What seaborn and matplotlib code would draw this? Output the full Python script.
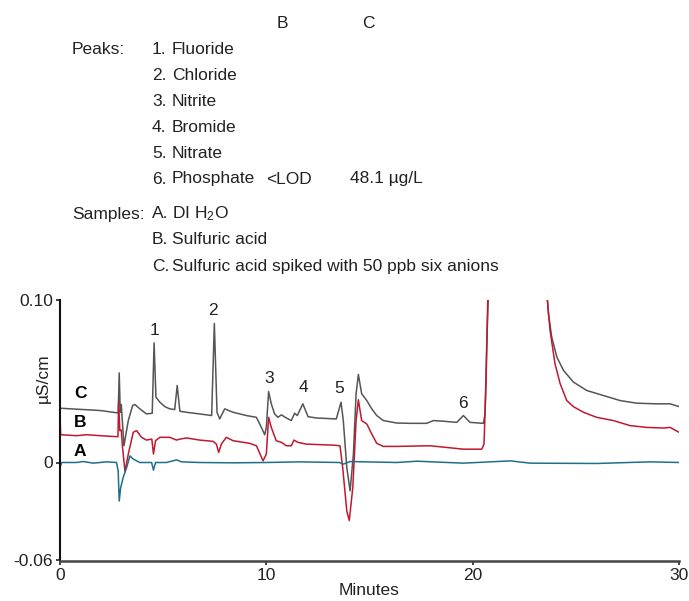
import matplotlib
matplotlib.use("Agg")
import matplotlib.pyplot as plt
import seaborn as sns
import pandas as pd

# ---------------- data ----------------
time_c = [0.00, 1.94, 2.82, 2.87, 2.92, 2.97, 3.02, 3.10, 3.31, 3.52, 3.63, 3.87, 4.19, 4.47,
          4.56, 4.65, 4.84, 5.08, 5.32, 5.56, 5.68, 5.81, 6.13, 6.77, 7.35, 7.48, 7.61, 7.74,
          7.98, 8.39, 9.03, 9.52, 9.76, 9.92, 10.00, 10.11, 10.24, 10.40, 10.56, 10.73, 10.97,
          11.21, 11.37, 11.50, 11.77, 12.02, 12.42, 13.39, 13.62, 13.73, 13.90, 14.06, 14.22,
          14.35, 14.46, 14.62, 14.87, 15.11, 15.35, 15.67, 16.32, 16.97, 17.77, 18.10, 18.58,
          19.23, 19.55, 19.87, 20.52, 20.60, 20.68, 20.78, 21.50, 23.00, 23.56, 23.67, 23.83,
          24.08, 24.40, 24.88, 25.53, 26.34, 27.15, 27.95, 28.92, 29.57, 30.00]
signal_c = [0.0334, 0.0320, 0.0305, 0.0551, 0.0309, 0.0357, 0.0258, 0.0103, 0.0258, 0.0351,
            0.0357, 0.0330, 0.0299, 0.0303, 0.0736, 0.0402, 0.0371, 0.0344, 0.0330, 0.0326,
            0.0474, 0.0315, 0.0309, 0.0299, 0.0289, 0.0856, 0.0309, 0.0268, 0.0330, 0.0309,
            0.0289, 0.0278, 0.0216, 0.0171, 0.0216, 0.0437, 0.0361, 0.0299, 0.0278, 0.0293,
            0.0274, 0.0258, 0.0303, 0.0289, 0.0361, 0.0282, 0.0274, 0.0268, 0.0371, 0.0258,
            -0.0031, -0.0175, 0.0052, 0.0423, 0.0542, 0.0423, 0.0381, 0.0330, 0.0289, 0.0258,
            0.0243, 0.0241, 0.0241, 0.0258, 0.0254, 0.0247, 0.0289, 0.0247, 0.0241, 0.0299,
            0.0711, 0.1120, 0.4000, 0.4000, 0.1120, 0.0918, 0.0773, 0.0649, 0.0567, 0.0495,
            0.0443, 0.0412, 0.0381, 0.0365, 0.0361, 0.0361, 0.0344]

time_b = [0.00, 0.03, 0.81, 1.29, 1.94, 2.74, 2.81, 2.84, 2.90, 2.97, 3.03, 3.15, 3.31, 3.55,
          3.71, 3.95, 4.19, 4.45, 4.53, 4.63, 4.84, 5.32, 5.65, 5.81, 6.13, 6.77, 7.42, 7.58,
          7.69, 7.82, 8.06, 8.39, 9.19, 9.52, 9.84, 10.00, 10.11, 10.24, 10.48, 10.73, 10.97,
          11.21, 11.34, 11.53, 11.94, 13.23, 13.57, 13.70, 13.90, 14.02, 14.19, 14.35, 14.46,
          14.62, 14.87, 15.11, 15.35, 15.67, 16.32, 17.94, 19.55, 20.44, 20.55, 20.65, 20.75,
          21.50, 23.00, 23.56, 23.62, 23.75, 23.99, 24.24, 24.56, 24.88, 25.37, 26.01, 26.82,
          27.63, 28.44, 29.25, 29.57, 30.00]
signal_b = [0.0299, 0.0171, 0.0165, 0.0171, 0.0165, 0.0159, 0.0159, 0.0371, 0.0196, 0.0200,
            0.0093, -0.0056, 0.0052, 0.0186, 0.0196, 0.0155, 0.0138, 0.0144, 0.0052, 0.0134,
            0.0155, 0.0155, 0.0138, 0.0144, 0.0151, 0.0138, 0.0130, 0.0113, 0.0062, 0.0113,
            0.0155, 0.0134, 0.0118, 0.0103, 0.0010, 0.0052, 0.0278, 0.0216, 0.0134, 0.0124,
            0.0103, 0.0103, 0.0138, 0.0124, 0.0113, 0.0107, 0.0103, -0.0031, -0.0299, -0.0357,
            -0.0155, 0.0258, 0.0386, 0.0258, 0.0237, 0.0175, 0.0118, 0.0099, 0.0099, 0.0103,
            0.0082, 0.0082, 0.0113, 0.0505, 0.1120, 0.4000, 0.4000, 0.1120, 0.1000, 0.0814,
            0.0608, 0.0485, 0.0381, 0.0344, 0.0309, 0.0278, 0.0258, 0.0227, 0.0216, 0.0212,
            0.0216, 0.0186]

time_a = [0.00, 0.08, 0.81, 1.13, 1.61, 2.26, 2.74, 2.82, 2.87, 2.94, 3.06, 3.23, 3.39, 3.55,
          3.87, 4.44, 4.53, 4.63, 5.16, 5.65, 5.89, 6.77, 8.39, 10.00, 11.61, 13.55, 13.73,
          14.06, 16.32, 17.29, 19.55, 21.82, 22.79, 26.01, 28.60, 30.00]
signal_a = [-0.0031, 0.0000, 0.0000, 0.0006, -0.0004, 0.0004, 0.0000, -0.0052, -0.0237,
            -0.0155, -0.0093, -0.0031, 0.0041, 0.0021, 0.0000, 0.0000, -0.0047, 0.0000,
            0.0000, 0.0016, 0.0004, 0.0000, -0.0002, 0.0000, 0.0004, 0.0000, -0.0010,
            0.0006, 0.0000, 0.0008, -0.0004, 0.0010, -0.0004, -0.0006, 0.0004, 0.0000]

trace_names = ["A", "B", "C"]
trace_colors = {"A": "#1f6f8b", "B": "#c0192f", "C": "#555555"}

peak_labels = ["1", "2", "3", "4", "5", "6"]
peak_label_t = [4.56, 7.42, 10.13, 11.80, 13.55, 19.52]
peak_label_v = [0.0814, 0.0938, 0.0515, 0.0460, 0.0454, 0.0365]

trace_label_t = [0.97, 0.97, 0.97]
trace_label_v = [0.0068, 0.0247, 0.0423]

peak_names = ["Fluoride", "Chloride", "Nitrite", "Bromide", "Nitrate", "Phosphate"]
conc_b = ["", "", "", "", "", "<LOD"]
conc_c = ["", "", "", "", "", "48.1 µg/L"]
sample_names = ["DI H$_2$O", "Sulfuric acid", "Sulfuric acid spiked with 50 ppb six anions"]

x_ticks = [0, 10, 20, 30]
y_ticks = [-0.06, 0, 0.10]
y_ticklabels = ["-0.06", "0", "0.10"]

# ---------------- styling ----------------
sns.set_theme(style="white")
FONT = ["Liberation Sans", "DejaVu Sans"]
plt.rcParams["font.family"] = FONT
plt.rcParams["mathtext.fontset"] = "custom"
plt.rcParams["mathtext.rm"] = "Liberation Sans"
plt.rcParams["mathtext.it"] = "Liberation Sans"
FS = 12.5
TXT = "#222222"

df = pd.concat([
    pd.DataFrame({"Minutes": time_a, "signal": signal_a, "trace": "A"}),
    pd.DataFrame({"Minutes": time_b, "signal": signal_b, "trace": "B"}),
    pd.DataFrame({"Minutes": time_c, "signal": signal_c, "trace": "C"}),
], ignore_index=True)

W, H = 689, 601
fig = plt.figure(figsize=(W / 100, H / 100), dpi=100)
ax = fig.add_axes([60 / W, 1 - 560 / H, 619 / W, 260 / H])

sns.lineplot(data=df, x="Minutes", y="signal", hue="trace", hue_order=["C", "B", "A"],
             palette=trace_colors, sort=False, estimator=None, linewidth=1.1,
             legend=False, ax=ax)

ax.set_xlim(0, 30)
ax.set_ylim(-0.06, 0.10)
ax.set_xticks(x_ticks)
ax.set_xticklabels([str(t) for t in x_ticks])
ax.set_yticks(y_ticks)
ax.set_yticklabels(y_ticklabels)
ax.tick_params(axis="both", length=3, width=1.2, pad=2, colors=TXT, direction="out",
               bottom=True, left=True, labelsize=FS)
for s in ["top", "right"]:
    ax.spines[s].set_visible(False)
ax.spines["left"].set_color("#111111")
ax.spines["left"].set_linewidth(1.5)
ax.spines["bottom"].set_color("#444444")
ax.spines["bottom"].set_linewidth(1.8)
ax.spines["bottom"].set_position(("outward", 1))
ax.set_xlabel("Minutes", fontsize=FS, labelpad=0, color=TXT)
ax.set_ylabel("µS/cm", fontsize=FS, color=TXT)
ax.yaxis.set_label_coords(-0.014, 0.70)

for lab, t, v in zip(peak_labels, peak_label_t, peak_label_v):
    ax.text(t, v, lab, fontsize=FS, ha="center", va="center", color=TXT)
for lab, t, v in zip(trace_names, trace_label_t, trace_label_v):
    ax.text(t, v, lab, fontsize=FS, ha="center", va="center", fontweight="bold", color="black")

# ---------------- header text block ----------------
def ftext(x, y, s, ha="left"):
    fig.text(x / W, 1 - y / H, s, fontsize=FS, va="center", ha=ha, color=TXT)

ftext(282, 23, "B", ha="center")
ftext(368, 23, "C", ha="center")
ftext(72, 49, "Peaks:")
for i, name in enumerate(peak_names):
    y = 49 + 26 * i
    ftext(152, y, f"{i + 1}.")
    ftext(172, y, name)
    if conc_b[i]:
        ftext(266, y, conc_b[i])
    if conc_c[i]:
        ftext(350, y, conc_c[i])
ftext(72, 214, "Samples:")
for i, (lab, name) in enumerate(zip(["A.", "B.", "C."], sample_names)):
    y = 214 + 26 * i
    ftext(152, y, lab)
    ftext(172, y, name)

fig.savefig("out.png", dpi=100)
